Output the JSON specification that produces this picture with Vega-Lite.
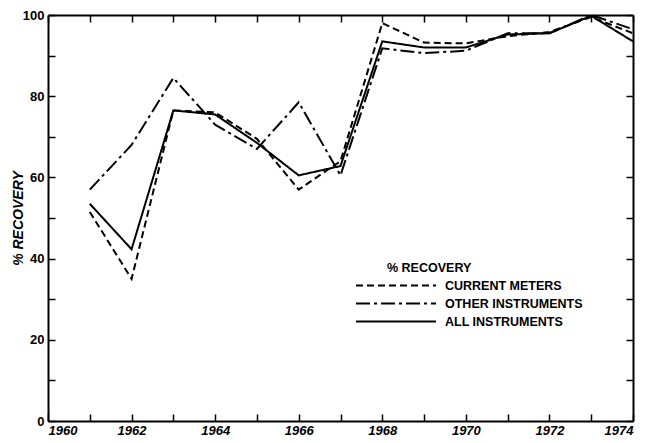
{
  "$schema": "https://vega.github.io/schema/vega-lite/v6.json",
  "width": 585,
  "height": 406,
  "autosize": "none",
  "padding": {"left": 48, "top": 15, "right": 21, "bottom": 22},
  "background": "white",
  "config": {
    "view": {"stroke": null},
    "font": "Liberation Sans",
    "axis": {
      "domainColor": "black",
      "domainWidth": 2,
      "tickColor": "black",
      "tickWidth": 1.5,
      "tickSize": -7,
      "grid": false,
      "labelFont": "Liberation Sans",
      "labelFontWeight": "bold",
      "labelColor": "black",
      "labelFontSize": 13,
      "titleColor": "black"
    }
  },
  "data": {
    "values": [
      {"year": 1961, "series": "CURRENT METERS", "value": 51.5},
      {"year": 1962, "series": "CURRENT METERS", "value": 35},
      {"year": 1963, "series": "CURRENT METERS", "value": 76.5},
      {"year": 1964, "series": "CURRENT METERS", "value": 76},
      {"year": 1965, "series": "CURRENT METERS", "value": 69.5},
      {"year": 1966, "series": "CURRENT METERS", "value": 57},
      {"year": 1967, "series": "CURRENT METERS", "value": 64},
      {"year": 1968, "series": "CURRENT METERS", "value": 98},
      {"year": 1969, "series": "CURRENT METERS", "value": 93.2},
      {"year": 1970, "series": "CURRENT METERS", "value": 93},
      {"year": 1971, "series": "CURRENT METERS", "value": 94.8},
      {"year": 1972, "series": "CURRENT METERS", "value": 95.8},
      {"year": 1973, "series": "CURRENT METERS", "value": 99.5},
      {"year": 1974, "series": "CURRENT METERS", "value": 95.5},
      {"year": 1961, "series": "OTHER INSTRUMENTS", "value": 57},
      {"year": 1962, "series": "OTHER INSTRUMENTS", "value": 68},
      {"year": 1963, "series": "OTHER INSTRUMENTS", "value": 84.5},
      {"year": 1964, "series": "OTHER INSTRUMENTS", "value": 73},
      {"year": 1965, "series": "OTHER INSTRUMENTS", "value": 67},
      {"year": 1966, "series": "OTHER INSTRUMENTS", "value": 78.5},
      {"year": 1967, "series": "OTHER INSTRUMENTS", "value": 60.5},
      {"year": 1968, "series": "OTHER INSTRUMENTS", "value": 91.8},
      {"year": 1969, "series": "OTHER INSTRUMENTS", "value": 90.6},
      {"year": 1970, "series": "OTHER INSTRUMENTS", "value": 91.2},
      {"year": 1971, "series": "OTHER INSTRUMENTS", "value": 95.5},
      {"year": 1972, "series": "OTHER INSTRUMENTS", "value": 95.5},
      {"year": 1973, "series": "OTHER INSTRUMENTS", "value": 100},
      {"year": 1974, "series": "OTHER INSTRUMENTS", "value": 96.5},
      {"year": 1961, "series": "ALL INSTRUMENTS", "value": 53.5},
      {"year": 1962, "series": "ALL INSTRUMENTS", "value": 42.3},
      {"year": 1963, "series": "ALL INSTRUMENTS", "value": 76.5},
      {"year": 1964, "series": "ALL INSTRUMENTS", "value": 75.5},
      {"year": 1965, "series": "ALL INSTRUMENTS", "value": 68.5},
      {"year": 1966, "series": "ALL INSTRUMENTS", "value": 60.5},
      {"year": 1967, "series": "ALL INSTRUMENTS", "value": 62.8},
      {"year": 1968, "series": "ALL INSTRUMENTS", "value": 93.5},
      {"year": 1969, "series": "ALL INSTRUMENTS", "value": 92},
      {"year": 1970, "series": "ALL INSTRUMENTS", "value": 92},
      {"year": 1971, "series": "ALL INSTRUMENTS", "value": 95.2},
      {"year": 1972, "series": "ALL INSTRUMENTS", "value": 95.5},
      {"year": 1973, "series": "ALL INSTRUMENTS", "value": 99.8},
      {"year": 1974, "series": "ALL INSTRUMENTS", "value": 93.5}
    ]
  },
  "layer": [
    {
      "mark": {"type": "line", "color": "black", "strokeWidth": 2},
      "encoding": {
        "x": {
          "field": "year", "type": "quantitative",
          "scale": {"domain": [1960, 1974], "nice": false, "zero": false},
          "axis": {
            "orient": "bottom", "title": null,
            "values": [1960,1961,1962,1963,1964,1965,1966,1967,1968,1969,1970,1971,1972,1973,1974],
            "labelExpr": "datum.value % 2 == 0 ? datum.value + '' : ''",
            "labelFontStyle": "italic",
            "labelPadding": 10
          }
        },
        "y": {
          "field": "value", "type": "quantitative",
          "scale": {"domain": [0, 100], "nice": false},
          "axis": {
            "orient": "left",
            "values": [0,10,20,30,40,50,60,70,80,90,100],
            "labelExpr": "datum.value % 20 == 0 ? datum.value + '' : ''",
            "labelPadding": 11,
            "title": "% RECOVERY",
            "titleFontStyle": "italic",
            "titleFontWeight": "bold",
            "titleFontSize": 14,
            "titlePadding": -3
          }
        },
        "strokeDash": {
          "field": "series", "type": "nominal",
          "scale": {
            "domain": ["CURRENT METERS", "OTHER INSTRUMENTS", "ALL INSTRUMENTS"],
            "range": [[7, 4], [14, 4, 3, 4], [1, 0]]
          },
          "legend": {
            "orient": "none",
            "legendX": 339,
            "legendY": 247,
            "title": "% RECOVERY",
            "titleFont": "Liberation Sans",
            "titleFontWeight": "bold",
            "titleFontSize": 12.5,
            "titleColor": "black",
            "titlePadding": 2,
            "labelFont": "Liberation Sans",
            "labelFontWeight": "bold",
            "labelFontSize": 12.5,
            "labelColor": "black",
            "symbolType": "M-5,0H5",
            "symbolSize": 256,
            "symbolStrokeWidth": 1.8,
            "symbolStrokeColor": "black",
            "labelOffset": 40,
            "rowPadding": 2
          }
        }
      }
    },
    {
      "mark": {"type": "line", "opacity": 0},
      "encoding": {
        "x": {
          "field": "year", "type": "quantitative",
          "axis": {
            "orient": "top", "title": null, "labels": false,
            "values": [1960,1961,1962,1963,1964,1965,1966,1967,1968,1969,1970,1971,1972,1973,1974]
          }
        },
        "y": {
          "field": "value", "type": "quantitative",
          "axis": {
            "orient": "right", "title": null, "labels": false,
            "values": [0,10,20,30,40,50,60,70,80,90,100]
          }
        },
        "detail": {"field": "series"}
      }
    }
  ],
  "resolve": {"axis": {"x": "independent", "y": "independent"}}
}
